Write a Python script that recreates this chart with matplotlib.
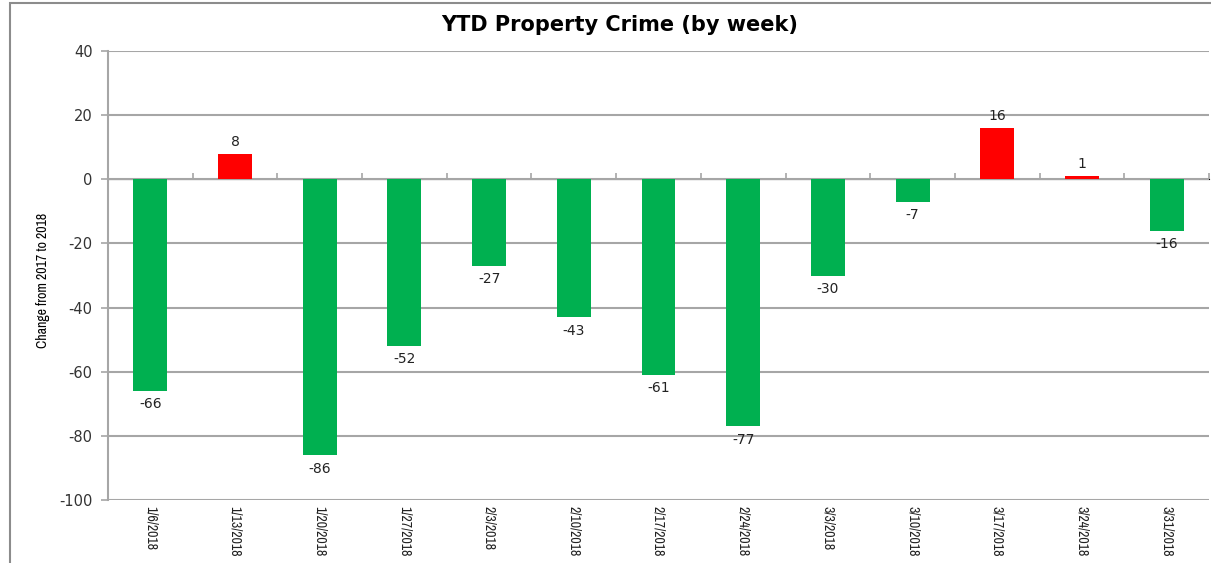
import matplotlib
matplotlib.use("Agg")
import matplotlib.pyplot as plt
from matplotlib.patches import Rectangle
from matplotlib import font_manager
import numpy as np

weeks = ["1/6/2018", "1/13/2018", "1/20/2018", "1/27/2018", "2/3/2018", "2/10/2018",
         "2/17/2018", "2/24/2018", "3/3/2018", "3/10/2018", "3/17/2018", "3/24/2018", "3/31/2018"]
changes = [-66, 8, -86, -52, -27, -43, -61, -77, -30, -7, 16, 1, -16]
y_ticks = [-100, -80, -60, -40, -20, 0, 20, 40]

GREEN = "#00B050"
RED = "#FF0000"
GRID = "#A6A6A6"
available = {f.name for f in font_manager.fontManager.ttflist}
narrow = [f for f in ["Liberation Sans Narrow", "Archivo Narrow", "DejaVu Sans"] if f in available]

fig = plt.figure(figsize=(12.11, 5.63), dpi=100)
fig.patch.set_facecolor("white")
fig.patches.append(Rectangle((10/1211, -0.1), 1.2, (1-3/563) + 0.1, transform=fig.transFigure,
                             fill=False, edgecolor="#8C8C8C", linewidth=1.5, zorder=0))

ax = fig.add_axes([108/1211, 1-500/563, (1209-108)/1211, (500-51)/563])
x = np.arange(len(weeks))
colors = [RED if v > 0 else GREEN for v in changes]
ax.bar(x, changes, width=0.4, color=colors, zorder=3)

for xi, v in zip(x, changes):
    if v >= 0:
        ax.text(xi, v + 1.5, str(v), ha="center", va="bottom", fontsize=10, color="#222222",
                family="DejaVu Sans")
    else:
        ax.text(xi, v - 2, str(v), ha="center", va="top", fontsize=10, color="#222222",
                family="DejaVu Sans")

ax.set_ylim(-100, 40)
ax.set_xlim(-0.5, len(weeks) - 0.5)
ax.set_yticks(y_ticks)
ax.set_yticklabels([str(t) for t in y_ticks], fontsize=10.5, color="#333333", family="DejaVu Sans")
ax.yaxis.grid(True, color=GRID, linewidth=1.5, zorder=0)
ax.set_axisbelow(True)
ax.tick_params(axis="y", length=5, color=GRID, width=1.2, pad=6)

for s in ["top", "right", "bottom"]:
    ax.spines[s].set_visible(False)
ax.spines["left"].set_color(GRID)
ax.spines["left"].set_linewidth(1.5)

ax.set_xticks(x)
ax.set_xticklabels(weeks, rotation=270, fontsize=10, family=narrow, color="#222222",
                   va="top", ha="center", fontweight="medium")
ax.tick_params(axis="x", length=0, pad=4)

# zero line with small category-boundary ticks
zero_pos = (0 - (-100)) / (40 - (-100))
sec = ax.secondary_xaxis(zero_pos)
sec.set_xticks(np.arange(-0.5, len(weeks), 1.0))
sec.set_xticklabels([])
sec.tick_params(axis="x", length=4, color=GRID, width=1.2)
sec.spines["bottom"].set_color(GRID)
sec.spines["bottom"].set_linewidth(1.5)

fig.text(620/1211, 1-25/563, "YTD Property Crime (by week)", ha="center", va="center",
         fontsize=15, fontweight="bold", family="DejaVu Sans")
fig.text(43/1211, 1-280/563, "Change from 2017 to 2018", ha="center", va="center",
         rotation=90, fontsize=10, fontweight="bold", family=narrow)

fig.savefig("out.png", dpi=100)
